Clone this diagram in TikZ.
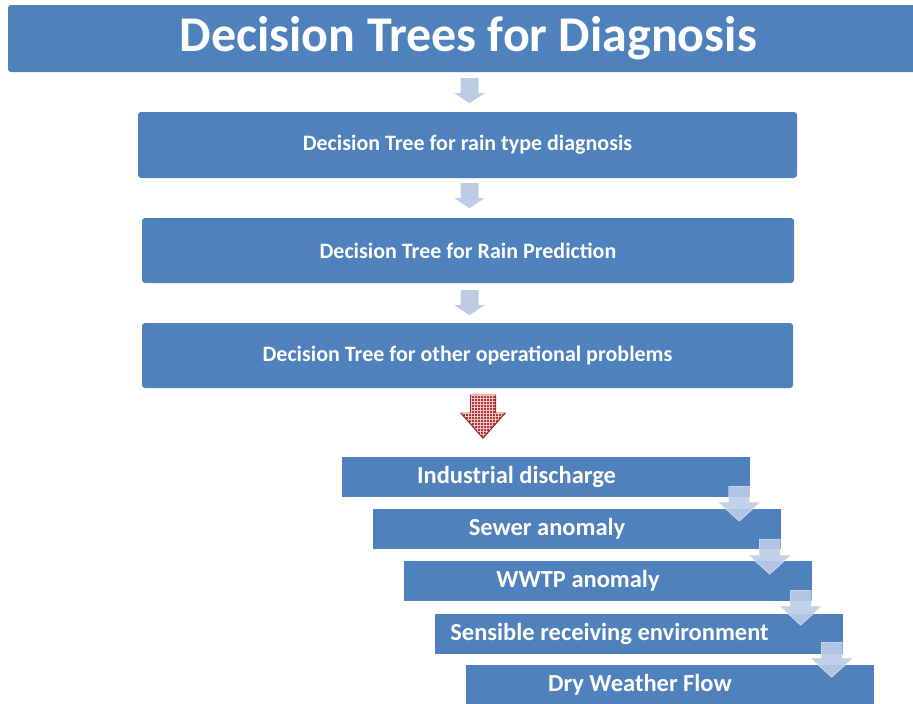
\documentclass[tikz,border=0pt]{standalone}
\usepackage{fontspec}
\setmainfont{Carlito}
\usetikzlibrary{calc,patterns}
\definecolor{boxblue}{HTML}{4F81BD}
\definecolor{arrowblue}{HTML}{BCCCE5}
\definecolor{arrowred}{HTML}{A03C3A}
\definecolor{arrowredline}{HTML}{8A2B29}

\begin{document}
\begin{tikzpicture}[x=1pt,y=-1pt]
\tikzset{box/.style={fill=boxblue,text=white,inner sep=0pt,rounded corners=3pt,
  font=\bfseries\fontsize{22}{24}\selectfont}}
\tikzset{steplabel/.style={text=white,xshift=-29.5pt,font=\bfseries\fontsize{24.5}{26}\selectfont}}
\tikzset{stepbox/.style={fill=boxblue,inner sep=0pt,minimum width=408pt,minimum height=40pt,
  label={[steplabel]center:#1}}}
\tikzset{pics/downarrow/.style args={#1/#2/#3/#4}{code={
  \path[pic actions] (-#1,0) -- (#1,0) -- (#1,#3-#4) -- (#2,#3-#4) -- (0,#3)
    -- (-#2,#3-#4) -- (-#1,#3-#4) -- cycle;}}}
\tikzset{mainarrow/.style={fill=arrowblue}}
\tikzset{smallarrow/.style={fill=arrowblue,draw=white!85!arrowblue,opacity=0.9}}

\useasboundingbox (0,0) rectangle (913,704);

% main column
\node[box,minimum width=921pt,minimum height=67pt,
  font=\bfseries\fontsize{50}{54}\selectfont] (title) at (468.5,38.5) {Decision Trees for Diagnosis};
\node[box,minimum width=659pt,minimum height=66pt] (rain) at (467.5,145) {Decision Tree for rain type diagnosis};
\node[box,minimum width=652pt,minimum height=65pt] (pred) at (468,250.5) {Decision Tree for Rain Prediction};
\node[box,minimum width=651pt,minimum height=65pt] (other) at (467.5,355.5) {Decision Tree for other operational problems};

\pic[mainarrow] at ($(title.south)+(1,6)$) {downarrow=9/15/25/10};
\pic[mainarrow] at ($(rain.south)+(2,5)$) {downarrow=9/15/25/10};
\pic[mainarrow] at ($(pred.south)+(1.5,7)$) {downarrow=9/15/25/10};

\pic[fill=arrowred,draw=arrowredline,line width=1pt] at ($(other.south)+(15.5,7)$) {downarrow=12.5/22/43/25};
\pic[pattern=grid,pattern color=red!25!white] at ($(other.south)+(15.5,7)$) {downarrow=12/21/42/24};

% problems
\node[stepbox=Industrial discharge] (ind) at (546,477) {};
\node[stepbox=Sewer anomaly] (sewer) at (576.5,529) {};
\node[stepbox=WWTP anomaly] (wwtp) at (607.5,581) {};
\node[stepbox=Sensible receiving environment] (env) at (639,633.5) {};
\node[stepbox=Dry Weather Flow] (dry) at (669.5,684.5) {};

\pic[smallarrow] at ($(ind.south east)+(-11,-11)$) {downarrow=10.5/21/35/19};
\pic[smallarrow] at ($(sewer.south east)+(-11,-10)$) {downarrow=10.5/21/35/19};
\pic[smallarrow] at ($(wwtp.south east)+(-11,-11)$) {downarrow=10.5/21/35/19};
\pic[smallarrow] at ($(env.south east)+(-11.5,-11.5)$) {downarrow=10.5/21/35/19};
\end{tikzpicture}
\end{document}
